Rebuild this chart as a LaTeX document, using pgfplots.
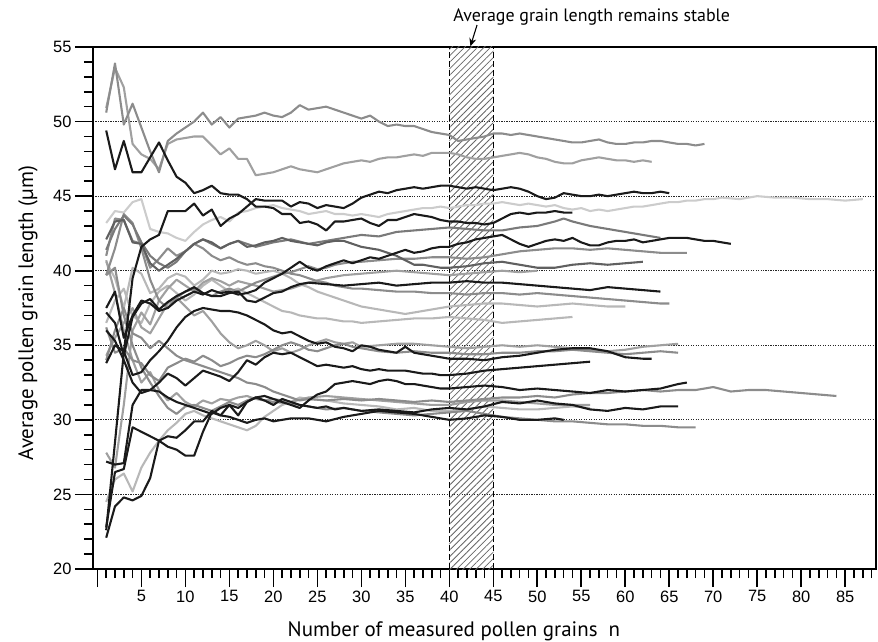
\documentclass[border=0pt]{standalone}
\usepackage{fontspec}
\setmainfont{Liberation Sans}
\newfontfamily\labelfont{PT Sans}
\usepackage{pgfplots}
\pgfplotsset{compat=1.18}
\usetikzlibrary{patterns.meta,arrows.meta}

\definecolor{k}{HTML}{1A1A1A}
\definecolor{g1}{HTML}{606060}
\definecolor{g2}{HTML}{7A7A7A}
\definecolor{g3}{HTML}{8C8C8C}
\definecolor{g4}{HTML}{A0A0A0}
\definecolor{g5}{HTML}{B8B8B8}
\definecolor{g6}{HTML}{CCCCCC}

\pgfplotsset{ln/.style={mark=none, line width=2.1pt, line join=round}}

\begin{document}
\begin{tikzpicture}
\begin{axis}[
  scale only axis, width=783bp, height=522bp,
  xmin=-0.5, xmax=88.5, ymin=20, ymax=55,
  clip=false,
  axis line style={line width=1.8pt, black},
  tick pos=left, tick align=outside,
  major tick length=18bp, minor tick length=9bp,
  every tick/.style={black, line width=1.6pt},
  xtick={0,5,...,85},
  xticklabels={{},5,10,15,20,25,30,35,40,45,50,55,60,65,70,75,80,85},
  minor xtick={0,1,...,88},
  ytick={20,25,...,55},
  minor ytick={20,21,...,55},
  ymajorgrids,
  major grid style={black!85, line width=0.9pt, dash pattern=on 1.2pt off 1.3pt},
  tick label style={font=\fontsize{16.5}{18}\selectfont},
  /pgf/number format/assume math mode=true,
]

% stable region
\path[pattern={Lines[angle=45,distance=4.6bp,line width=0.8bp]}, pattern color=black!60]
  (axis cs:40,20) rectangle (axis cs:45,55);
\draw[black, line width=1.2pt, dash pattern=on 6pt off 3pt] (axis cs:40,20) -- (axis cs:40,55);
\draw[black, line width=1.2pt, dash pattern=on 6pt off 3pt] (axis cs:45,20) -- (axis cs:45,55);

% D
\addplot[ln, g6] coordinates {(1,43.2)(2,44.0)(3,43.9)(4,44.6)(5,44.8)(6,42.8)(7,42.6)(8,42.5)(9,42.2)(10,42.0)(11,42.6)(12,43.1)(13,43.4)(14,43.6)(15,43.3)(16,43.9)(17,44.0)(18,44.2)(19,44.3)(20,44.4)(21,44.2)(22,44.1)(23,44.0)(24,43.8)(25,43.9)(26,44.0)(27,43.8)(28,43.8)(29,43.7)(30,43.8)(31,43.7)(32,43.6)(33,43.8)(34,43.9)(35,44.0)(36,44.1)(37,44.2)(38,44.2)(39,44.3)(40,44.2)(41,44.3)(42,44.4)(43,44.4)(44,44.5)(45,44.5)(46,44.6)(47,44.5)(48,44.4)(49,44.5)(50,44.4)(51,44.3)(52,44.4)(53,44.2)(54,44.1)(55,44.2)(56,44.0)(57,44.1)(58,44.0)(59,44.1)(60,44.2)(61,44.3)(62,44.3)(63,44.4)(64,44.5)(65,44.6)(66,44.6)(67,44.7)(68,44.7)(69,44.8)(70,44.8)(71,44.9)(73,44.8)(75,45.0)(77,44.9)(79,44.9)(81,44.8)(83,44.8)(85,44.7)(87,44.8)};
% M
\addplot[ln, g5] coordinates {(1,36.5)(2,38.0)(3,38.8)(4,37.0)(5,36.5)(6,37.8)(7,38.6)(8,39.0)(9,38.5)(10,38.0)(11,38.4)(12,39.0)(13,39.4)(14,39.0)(15,38.6)(16,38.8)(17,38.5)(18,38.2)(19,37.9)(20,37.6)(21,37.3)(22,37.2)(23,37.0)(24,36.9)(25,36.8)(26,36.8)(27,36.7)(28,36.6)(29,36.6)(30,36.5)(32,36.6)(34,36.7)(36,36.8)(38,36.8)(40,36.9)(42,36.8)(44,36.7)(46,36.5)(48,36.6)(50,36.7)(52,36.8)(54,36.9)};
% L
\addplot[ln, g5] coordinates {(1,40.6)(2,39.5)(3,37.5)(4,40.2)(5,39.8)(6,38.5)(7,38.8)(8,39.5)(9,39.8)(10,39.6)(11,39.0)(12,39.4)(13,40.0)(14,39.8)(15,39.9)(16,40.1)(17,40.0)(18,39.8)(19,39.9)(20,40.0)(21,39.8)(22,39.5)(23,39.1)(24,38.9)(25,38.6)(26,38.4)(27,38.2)(28,38.0)(29,37.8)(30,37.6)(31,37.5)(32,37.4)(33,37.3)(34,37.2)(35,37.1)(36,37.2)(37,37.3)(38,37.4)(39,37.5)(40,37.6)(42,37.7)(44,37.8)(46,37.8)(48,37.7)(50,37.6)(52,37.7)(54,37.8)(56,37.7)(58,37.6)(60,37.6)};
% U
\addplot[ln, g5] coordinates {(1,24.5)(2,26.0)(3,26.4)(4,25.2)(5,26.8)(6,27.8)(7,28.6)(8,29.3)(9,29.8)(10,30.4)(11,30.6)(12,30.3)(13,30.1)(14,29.9)(15,29.7)(16,29.5)(17,29.3)(18,29.6)(19,30.2)(20,30.6)(21,31.0)(22,31.2)(23,31.5)(24,31.4)(26,31.3)(28,31.1)(30,31.0)(32,30.9)(34,30.7)(36,30.8)(38,30.6)(40,30.6)(42,30.7)(44,30.9)(46,30.8)(48,30.7)(50,30.7)(52,30.8)(54,30.9)(56,30.8)};
% B
\addplot[ln, g4] coordinates {(1,50.9)(2,53.6)(3,52.3)(4,48.5)(5,47.8)(6,47.5)(7,46.8)(8,48.5)(9,48.8)(10,48.9)(11,49.0)(12,49.0)(13,48.4)(14,47.8)(15,48.2)(16,47.5)(17,47.5)(18,46.4)(19,46.5)(20,46.6)(21,46.8)(22,47.0)(23,46.8)(24,46.7)(25,46.6)(26,46.8)(27,47.0)(28,47.2)(29,47.3)(30,47.4)(31,47.3)(32,47.5)(33,47.6)(34,47.6)(35,47.7)(36,47.8)(37,47.7)(38,47.9)(39,47.9)(40,47.9)(41,47.8)(42,47.6)(43,47.5)(44,47.5)(45,47.6)(46,47.7)(47,47.8)(48,47.9)(49,47.8)(50,47.6)(51,47.5)(52,47.3)(53,47.2)(54,47.2)(55,47.4)(56,47.5)(57,47.6)(58,47.5)(59,47.4)(60,47.4)(61,47.3)(62,47.4)(63,47.3)};
% O
\addplot[ln, g4] coordinates {(1,34.3)(2,35.5)(3,36.5)(4,37.5)(5,36.2)(6,35.8)(7,36.8)(8,37.8)(9,38.2)(10,37.6)(11,37.0)(12,37.3)(13,36.6)(14,35.8)(15,35.2)(16,34.8)(17,35.0)(18,35.3)(19,35.0)(20,34.6)(21,34.8)(22,34.5)(23,34.7)(24,35.0)(25,35.2)(26,35.4)(27,35.2)(28,35.1)(29,35.2)(30,34.9)(32,35.0)(34,35.1)(36,35.1)(38,35.0)(40,34.9)(42,34.8)(44,34.9)(46,35.0)(48,34.9)(50,35.0)(52,34.9)(54,34.8)(56,34.7)(58,34.6)(60,34.7)(62,34.9)(64,35.0)(66,35.1)};
% V
\addplot[ln, g4] coordinates {(1,40.7)(2,38.5)(3,36.0)(4,34.0)(5,32.5)(6,33.2)(7,32.0)(8,31.3)(9,31.8)(10,31.2)(11,30.9)(12,31.3)(13,31.1)(14,31.4)(15,31.3)(16,31.5)(17,31.6)(18,31.4)(19,31.3)(20,31.4)(22,31.2)(24,31.5)(26,31.6)(28,31.5)(30,31.4)(32,31.3)(34,31.2)(36,31.1)(38,31.0)(40,31.0)(42,31.2)(44,31.3)(46,31.3)(48,31.2)(50,31.1)(52,31.0)(54,31.0)(56,31.0)};
% Y
\addplot[ln, g4] coordinates {(1,27.8)(2,26.8)(3,31.0)(4,36.0)(5,37.2)(6,36.4)(7,38.0)(8,38.8)(9,39.4)(10,39.0)(11,38.6)(12,39.2)(13,39.5)(14,39.3)(15,39.0)(16,39.3)(18,39.0)(20,38.6)(22,38.8)(24,39.2)(26,39.5)(28,39.7)(30,39.8)(32,39.9)(34,40.0)(36,39.9)(38,39.8)(40,39.7)(42,39.8)(44,39.9)(46,40.0)(48,39.9)(50,40.0)};
% A
\addplot[ln, g3] coordinates {(1,50.6)(2,53.9)(3,49.8)(4,51.2)(5,49.6)(6,48.0)(7,46.6)(8,48.7)(9,49.2)(10,49.6)(11,50.0)(12,50.6)(13,49.8)(14,50.3)(15,49.6)(16,50.2)(17,50.3)(18,50.4)(19,50.6)(20,50.4)(21,50.3)(22,50.6)(23,51.1)(24,50.8)(25,50.9)(26,51.0)(27,50.8)(28,50.6)(29,50.4)(30,50.2)(31,50.4)(32,50.0)(33,49.7)(34,49.8)(35,49.7)(36,49.7)(37,49.5)(38,49.3)(39,49.2)(40,49.1)(41,48.7)(42,48.8)(43,48.9)(44,49.0)(45,49.2)(46,49.2)(47,49.1)(48,49.2)(49,49.1)(50,49.0)(51,48.9)(52,48.8)(53,48.7)(54,48.6)(55,48.6)(56,48.7)(57,48.8)(58,48.6)(59,48.5)(60,48.5)(61,48.6)(62,48.6)(63,48.7)(64,48.7)(65,48.6)(66,48.5)(67,48.5)(68,48.4)(69,48.5)};
% H
\addplot[ln, g3] coordinates {(1,39.7)(2,41.5)(3,43.8)(4,43.2)(5,41.5)(6,39.4)(7,38.0)(8,37.5)(9,38.2)(10,38.6)(11,38.8)(12,38.5)(13,38.3)(14,38.6)(15,38.8)(16,38.6)(17,38.9)(18,39.2)(19,39.4)(20,39.6)(21,39.8)(22,39.9)(23,40.1)(24,40.3)(25,40.1)(26,40.2)(27,40.4)(28,40.5)(29,40.6)(30,40.6)(32,40.7)(34,40.8)(36,40.8)(38,40.9)(40,40.9)(42,40.8)(44,40.9)(46,41.1)(48,41.3)(50,41.4)(52,41.5)(54,41.5)(56,41.4)(58,41.5)(60,41.4)(62,41.3)(64,41.2)(66,41.2)(67,41.2)};
% K
\addplot[ln, g3] coordinates {(1,41.0)(2,43.5)(3,43.4)(4,42.0)(5,41.8)(6,40.2)(7,40.8)(8,41.5)(9,41.0)(10,41.3)(11,41.8)(12,41.5)(13,41.0)(14,40.7)(15,40.9)(16,40.6)(17,40.4)(18,40.5)(19,40.3)(20,40.2)(21,40.0)(22,39.8)(23,39.7)(24,39.5)(25,39.3)(26,39.2)(27,39.0)(28,38.9)(29,38.8)(30,38.8)(32,38.7)(34,38.6)(36,38.6)(38,38.5)(40,38.5)(42,38.4)(44,38.5)(46,38.5)(48,38.4)(50,38.5)(52,38.4)(54,38.3)(56,38.2)(58,38.1)(60,38.0)(62,37.9)(64,37.8)(65,37.8)};
% P
\addplot[ln, g3] coordinates {(1,36.2)(2,34.5)(3,34.8)(4,34.0)(5,33.8)(6,33.0)(7,32.6)(8,33.5)(9,33.8)(10,34.1)(11,33.9)(12,34.3)(13,34.0)(14,33.6)(15,33.8)(16,34.1)(17,34.3)(18,34.2)(19,34.4)(20,34.7)(21,35.0)(22,35.2)(23,35.0)(24,34.7)(25,34.6)(26,34.8)(27,35.0)(28,35.1)(29,34.9)(30,34.8)(32,34.6)(34,34.5)(36,34.6)(38,34.5)(40,34.5)(42,34.4)(44,34.4)(46,34.5)(48,34.5)(50,34.6)(52,34.6)(54,34.7)(56,34.6)(58,34.5)(60,34.4)(62,34.5)(64,34.6)(66,34.5)};
% S
\addplot[ln, g3] coordinates {(1,34.0)(2,36.0)(3,37.5)(4,35.8)(5,35.5)(6,34.8)(7,35.3)(8,34.8)(9,34.3)(10,34.0)(11,33.8)(12,33.6)(13,33.4)(14,33.2)(15,33.0)(16,32.8)(17,32.5)(18,32.4)(19,32.2)(20,31.9)(21,31.7)(22,31.5)(23,31.3)(24,31.4)(26,31.3)(28,31.4)(30,31.3)(32,31.4)(34,31.3)(36,31.2)(38,31.3)(40,31.2)(42,31.3)(44,31.4)(46,31.5)(48,31.5)(50,31.6)(52,31.5)(54,31.7)(56,31.8)(58,31.8)(60,31.9)(62,32.0)(64,31.9)(66,32.0)(68,32.0)(70,32.2)(72,31.9)(74,32.0)(76,32.0)(78,31.9)(80,31.8)(82,31.7)(84,31.6)};
% X
\addplot[ln, g3] coordinates {(1,39.7)(2,40.2)(3,37.0)(4,35.0)(5,33.5)(6,32.5)(7,31.6)(8,30.8)(9,30.4)(10,30.9)(11,31.0)(12,30.8)(13,30.6)(14,30.9)(15,31.2)(16,31.0)(17,31.3)(18,31.5)(19,31.3)(20,31.2)(22,31.1)(24,30.9)(26,30.7)(28,30.8)(30,30.6)(32,30.5)(34,30.4)(36,30.3)(38,30.4)(40,30.5)(42,30.6)(44,30.4)(46,30.2)(48,30.1)(50,30.0)(52,29.9)(54,29.9)(56,29.8)(58,29.7)(60,29.7)(62,29.6)(64,29.6)(66,29.5)(68,29.5)};
% F
\addplot[ln, g2] coordinates {(1,41.4)(2,42.8)(3,43.7)(4,43.1)(5,41.9)(6,41.0)(7,40.5)(8,40.2)(9,40.6)(10,41.3)(11,41.8)(12,42.1)(13,41.8)(14,41.5)(15,41.8)(16,42.0)(18,41.6)(20,41.9)(22,42.1)(24,41.8)(26,42.0)(28,42.2)(30,42.4)(32,42.3)(34,42.6)(36,42.7)(38,42.8)(40,42.9)(42,42.8)(44,42.7)(46,42.7)(48,42.9)(50,43.0)(52,43.3)(53,43.5)(54,43.3)(56,43.0)(58,42.8)(60,42.6)(62,42.4)(64,42.2)};
% I
\addplot[ln, g1] coordinates {(1,42.1)(2,43.3)(3,43.4)(4,41.9)(5,41.8)(6,40.5)(7,40.0)(8,40.4)(9,40.8)(10,41.3)(11,41.8)(12,42.1)(13,41.9)(14,41.5)(15,41.8)(16,42.0)(17,41.6)(18,41.7)(19,41.9)(20,42.0)(21,42.2)(22,42.0)(23,41.9)(24,41.8)(25,41.7)(26,41.9)(27,42.0)(28,42.0)(29,41.8)(30,41.6)(31,41.5)(32,41.4)(33,41.2)(34,41.0)(35,40.7)(36,40.4)(37,40.4)(38,40.3)(39,40.2)(40,40.2)(42,40.3)(44,40.5)(46,40.6)(48,40.4)(50,40.2)(52,40.2)(54,40.4)(56,40.5)(58,40.4)(60,40.5)(62,40.6)};

% black series
% C
\addplot[ln, k] coordinates {(1,22.6)(2,28.5)(3,34.5)(4,39.5)(5,41.6)(6,42.1)(7,42.4)(8,44.0)(9,44.0)(10,44.0)(11,44.5)(12,43.7)(13,44.1)(14,43.0)(15,43.5)(16,43.8)(17,44.3)(18,44.8)(19,44.7)(20,44.7)(21,44.7)(22,44.3)(23,44.6)(24,44.5)(25,44.2)(26,44.4)(27,44.3)(28,44.2)(29,44.5)(30,44.9)(31,45.1)(32,45.3)(33,45.2)(34,45.4)(35,45.5)(36,45.6)(37,45.5)(38,45.6)(39,45.7)(40,45.7)(41,45.6)(42,45.5)(43,45.6)(44,45.5)(45,45.4)(46,45.5)(47,45.6)(48,45.5)(49,45.3)(50,45.0)(51,44.8)(52,44.9)(53,45.2)(54,45.1)(55,45.0)(56,45.0)(57,45.1)(58,45.0)(59,45.1)(60,45.2)(61,45.3)(62,45.2)(63,45.2)(64,45.3)(65,45.2)};
% E
\addplot[ln, k] coordinates {(1,49.4)(2,46.8)(3,48.7)(4,46.6)(5,46.6)(6,47.6)(7,48.6)(8,47.4)(9,46.3)(10,45.9)(11,45.2)(12,45.4)(13,45.7)(14,45.2)(15,45.1)(16,45.1)(17,44.8)(18,44.3)(19,44.3)(20,44.2)(21,43.8)(22,43.8)(23,43.2)(24,43.3)(25,43.1)(26,42.7)(27,43.3)(28,43.3)(29,43.4)(30,43.5)(31,43.2)(32,43.0)(33,43.4)(34,43.4)(35,43.6)(36,43.8)(37,43.7)(38,43.6)(39,43.4)(40,43.3)(41,43.3)(42,43.2)(43,43.2)(44,43.1)(45,43.2)(46,43.5)(47,43.8)(48,43.9)(49,43.8)(50,43.9)(51,43.9)(52,44.0)(53,43.9)(54,43.9)};
% G
\addplot[ln, k] coordinates {(1,37.5)(2,38.6)(3,35.5)(4,37.0)(5,38.0)(6,37.8)(7,37.3)(8,37.5)(9,38.0)(10,38.3)(11,38.6)(12,38.4)(13,38.7)(14,38.5)(15,38.6)(16,38.4)(17,38.5)(18,38.7)(19,39.2)(20,39.5)(21,39.8)(22,40.2)(23,40.6)(24,40.2)(25,40.0)(26,40.3)(27,40.5)(28,40.7)(29,40.5)(30,40.7)(31,40.9)(32,40.8)(33,41.0)(34,41.2)(35,41.4)(36,41.2)(37,41.3)(38,41.5)(39,41.6)(40,41.6)(41,41.8)(42,41.9)(43,42.1)(44,42.2)(45,42.3)(46,42.4)(47,42.1)(48,41.8)(49,41.6)(50,41.8)(51,42.0)(52,42.1)(53,42.0)(54,42.2)(55,41.9)(56,41.7)(57,41.7)(58,41.9)(59,42.0)(60,42.0)(61,42.1)(62,41.9)(63,42.0)(64,42.1)(65,42.2)(66,42.2)(67,42.2)(68,42.1)(69,42.0)(70,42.0)(71,41.9)(72,41.8)};
% J
\addplot[ln, k] coordinates {(1,37.2)(2,36.5)(3,34.3)(4,36.9)(5,37.8)(6,38.1)(7,37.4)(8,37.9)(9,38.3)(10,38.6)(11,38.9)(12,38.5)(13,38.3)(14,38.3)(15,38.5)(16,38.6)(17,38.0)(18,37.9)(19,38.2)(20,38.5)(21,38.6)(22,38.9)(23,39.1)(24,39.2)(26,39.1)(28,39.0)(30,39.1)(32,39.2)(34,39.0)(36,39.1)(38,39.2)(40,39.2)(42,39.3)(44,39.2)(46,39.2)(48,39.1)(50,39.0)(52,38.9)(54,38.8)(56,38.7)(58,38.9)(60,38.8)(62,38.7)(64,38.6)};
% N
\addplot[ln, k] coordinates {(1,33.8)(2,35.0)(3,34.6)(4,33.0)(5,33.2)(6,34.0)(7,34.6)(8,35.3)(9,36.2)(10,36.9)(11,37.3)(12,37.5)(13,37.4)(14,37.3)(15,37.3)(16,37.2)(17,37.0)(18,36.7)(19,36.4)(20,36.0)(21,35.8)(22,35.9)(23,35.6)(24,35.3)(25,35.1)(26,35.2)(27,34.9)(28,34.8)(29,34.6)(30,35.0)(31,34.9)(32,34.7)(33,34.6)(34,34.5)(35,34.9)(36,34.5)(37,34.4)(38,34.3)(39,34.2)(40,34.1)(42,34.1)(44,34.0)(46,34.2)(48,34.3)(50,34.5)(52,34.7)(54,34.8)(56,34.8)(58,34.6)(60,34.2)(62,34.1)(63,34.1)};
% Q
\addplot[ln, k] coordinates {(1,36.0)(2,35.3)(3,34.0)(4,32.5)(5,31.8)(6,32.0)(7,32.5)(8,33.1)(9,32.8)(10,32.3)(11,32.8)(12,33.3)(13,33.1)(14,32.9)(15,32.6)(16,33.2)(17,34.0)(18,33.7)(19,34.2)(20,34.5)(21,34.4)(22,34.5)(23,34.2)(24,33.9)(25,33.6)(26,33.7)(27,33.6)(28,33.5)(29,33.6)(30,33.4)(31,33.3)(32,33.4)(33,33.3)(34,33.3)(35,33.3)(36,33.2)(37,33.1)(38,33.1)(39,33.0)(40,33.0)(42,33.1)(44,33.3)(46,33.4)(48,33.5)(50,33.6)(52,33.7)(54,33.8)(56,33.9)};
% R
\addplot[ln, k] coordinates {(1,27.2)(2,27.0)(3,27.1)(4,31.0)(5,32.0)(6,32.0)(7,31.9)(8,31.5)(9,31.2)(10,31.0)(11,30.8)(12,30.6)(13,30.4)(14,30.8)(15,31.0)(16,30.8)(17,31.2)(18,31.5)(19,31.6)(20,31.4)(21,31.2)(22,31.0)(23,30.8)(24,31.3)(25,31.7)(26,31.9)(27,32.4)(28,32.5)(29,32.6)(30,32.5)(31,32.4)(32,32.6)(33,32.7)(34,32.6)(35,32.4)(36,32.4)(37,32.3)(38,32.2)(39,32.1)(40,32.1)(42,32.2)(44,32.3)(46,32.2)(48,32.0)(50,32.1)(52,32.0)(54,31.9)(56,31.8)(58,32.0)(60,31.9)(62,32.0)(64,32.1)(66,32.4)(67,32.5)};
% T
\addplot[ln, k] coordinates {(1,22.8)(2,26.5)(3,26.7)(4,29.5)(5,29.2)(6,28.9)(7,28.6)(8,28.2)(9,28.0)(10,27.6)(11,27.6)(12,29.2)(13,30.5)(14,30.3)(15,31.0)(16,30.3)(17,31.2)(18,31.5)(19,31.3)(20,31.0)(21,31.4)(22,31.2)(23,31.0)(24,30.9)(25,30.8)(26,30.9)(27,30.7)(28,30.8)(29,30.7)(30,30.6)(32,30.7)(34,30.6)(36,30.5)(38,30.7)(40,30.8)(42,30.7)(44,30.9)(46,31.2)(48,31.1)(50,31.3)(52,31.1)(54,31.0)(56,30.7)(58,30.6)(60,30.8)(62,30.7)(64,30.9)(66,30.9)};
% W
\addplot[ln, k] coordinates {(1,22.1)(2,24.2)(3,24.8)(4,24.6)(5,24.9)(6,26.1)(7,28.6)(8,28.9)(9,28.8)(10,29.3)(11,29.9)(12,29.9)(13,30.6)(14,30.3)(15,30.2)(16,30.0)(17,29.8)(18,30.0)(19,30.1)(20,29.9)(22,30.1)(24,30.1)(26,29.9)(28,30.2)(30,30.4)(32,30.6)(34,30.5)(36,30.4)(38,30.2)(40,30.0)(42,30.1)(44,30.3)(46,30.2)(48,30.0)(50,30.0)(52,30.1)(53,30.0)};

% annotation
\node[anchor=base west, inner sep=0pt, font=\labelfont\fontsize{18}{20}\selectfont]
  at (axis cs:40.45,56.69) {Average grain length remains stable};
\draw[-{Stealth[length=8bp,width=7bp]}, line width=1.1pt, black]
  (axis cs:43.15,56.47) -- (axis cs:42.4,55.05);

% axis labels
\node[anchor=base, inner sep=0pt, font=\labelfont\fontsize{21}{24}\selectfont]
  at (axis description cs:0.461,-0.130) {Number of measured pollen grains~~n};
\node[anchor=base, rotate=90, inner sep=0pt, font=\labelfont\fontsize{21}{24}\selectfont]
  at (axis description cs:-0.0766,0.490) {Average pollen grain length (µm)};
\end{axis}
\pgfresetboundingbox
\path (current axis.south west) ++(-93bp,-73bp) rectangle ++(878bp,642bp);
\end{tikzpicture}
\end{document}
